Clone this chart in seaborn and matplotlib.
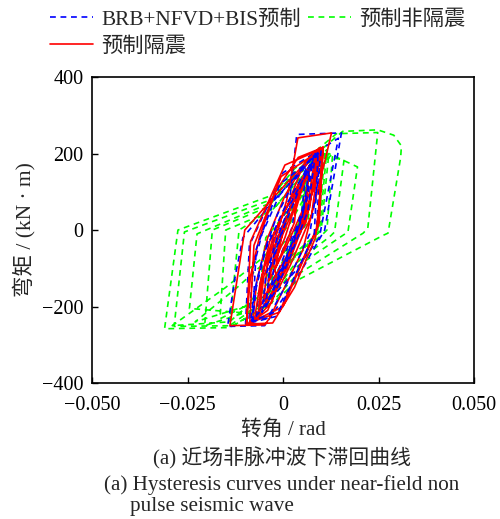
import matplotlib
matplotlib.use("Agg")
import matplotlib.pyplot as plt
import seaborn as sns
import pandas as pd

sns.set_theme(style="white")
FONT = ["Liberation Serif", "Noto Sans CJK SC"]
plt.rcParams["font.family"] = FONT
plt.rcParams["axes.unicode_minus"] = True

# ---- series labels ----
series_names = ["BRB+NFVD+BIS预制", "预制非隔震", "预制隔震"]
series_colors = ["#0000FF", "#00FF00", "#FF0000"]

# ---- 预制非隔震: rotation (rad) / moment (kN·m) path ----
green_rot = [
    0.0000, 0.0030, 0.0060, 0.0050, 0.0010, -0.0030, -0.0020, 0.0020,
    0.0080, 0.0130, 0.0115, 0.0105, 0.0020, -0.0040, -0.0165, -0.0150, -0.0030, 0.0030,
    0.0100, 0.0160, 0.0135, 0.0125, 0.0030, -0.0050, -0.0205, -0.0185, -0.0040, 0.0030,
    0.0120, 0.0195, 0.0170, 0.0155, 0.0030, -0.0060, -0.0245, -0.0225, -0.0035, 0.0030,
    0.0156, 0.0248, 0.0290, 0.0310, 0.0308, 0.0275, 0.0262, 0.0040, -0.0020, -0.0140,
    -0.0310, -0.0275, -0.0026, 0.0030,
    0.0140, 0.0248, 0.0222, 0.0210, 0.0035, -0.0030, -0.0130, -0.0285, -0.0258, -0.0030, 0.0030,
    0.0090, 0.0115, 0.0095, 0.0020, -0.0040, -0.0140, -0.0115, -0.0020, 0.0040,
    0.0080, 0.0065, -0.0030, -0.0060, -0.0045, 0.0020, 0.0060, 0.0045, -0.0020, 0.0000,
    0.0110, 0.0090, -0.0060, -0.0140, -0.0290, -0.0150, -0.0050, 0.0020,
    0.0120, 0.0100, -0.0100, -0.0230, -0.0120, -0.0020, 0.0000,
]
green_mom = [
    0, 60, 130, 40, -60, -140, -40, 50,
    150, 200, 0, -10, -80, -170, -232, 0, 50, 120,
    190, 185, -5, -15, -90, -200, -250, 0, 60, 140,
    200, 165, -5, -15, -100, -220, -205, -10, 70, 150,
    258, 262, 248, 220, 190, -8, -14, -130, -185, -255,
    -258, 0, 92, 160,
    252, 255, 5, -8, -118, -190, -250, -252, -5, 80, 150,
    190, 210, -5, -70, -180, -250, 0, 60, 130,
    170, 20, -100, -150, -20, 60, 140, 20, -60, 0,
    200, -10, -170, -240, -250, -150, -70, 20,
    200, 0, -200, -240, -150, -60, 0,
]

# ---- BRB+NFVD+BIS预制 ----
blue_rot = [
    0.0000,
    0.0035, 0.0025, -0.0025, -0.0040, -0.0028, 0.0010,
    0.0060, 0.0050, -0.0010, -0.0060, -0.0050, -0.0015,
    0.0012, 0.0036, 0.0153, 0.0109, 0.0040, -0.0048, -0.0145, -0.0125, -0.0105, -0.0030,
    0.0090, 0.0078, 0.0055, -0.0025, -0.0070, -0.0060, -0.0025, 0.0025,
    0.0098, 0.0088, -0.0015, -0.0098, -0.0088, 0.0000,
    0.0145, 0.0095, 0.0030, -0.0090, -0.0078, -0.0055, -0.0010,
    0.0080, 0.0065, 0.0020, -0.0035, -0.0080, -0.0070, -0.0045, 0.0000, 0.0050,
    0.0100, 0.0090, 0.0070, 0.0010, -0.0040, -0.0085, -0.0075, -0.0050, -0.0015, 0.0030,
    0.0085, 0.0065, 0.0015, -0.0020, -0.0055, -0.0045, -0.0015, 0.0020,
    0.0092, 0.0082, -0.0010, -0.0080, -0.0070, -0.0008,
    0.0075, 0.0060, 0.0010, -0.0045, -0.0035, -0.0005, 0.0040,
    0.0070, 0.0050, 0.0000, -0.0030, -0.0020, 0.0000,
]
blue_mom = [
    0,
    110, 10, -110, -140, -50, 40,
    160, 50, -100, -190, -90, 0,
    27, 250, 254, 0, -120, -250, -252, -120, -20, 70,
    205, 110, 10, -140, -225, -140, -20, 90,
    210, 0, -225, -246, -40, 150,
    240, -20, -110, -243, -100, -10, 90,
    195, 90, -60, -180, -238, -150, -50, 50, 140,
    210, 120, -10, -140, -230, -240, -160, -60, 40, 130,
    200, 50, -80, -160, -215, -120, -20, 70,
    205, -10, -210, -238, -50, 120,
    185, 80, -70, -200, -100, -10, 100,
    170, 30, -90, -150, -60, 0,
]
# later part of the blue record is drawn above the red one
blue_split = 43

# ---- 预制隔震 ----
red_rot = [
    0.0000,
    0.0040, 0.0030, -0.0020, -0.0035, -0.0020, 0.0020,
    0.0070, 0.0060, 0.0010, -0.0050, -0.0040, -0.0010,
    0.0010, 0.0039, 0.0127, 0.0112, 0.0052, -0.0035, -0.0048, -0.0139, -0.0100, -0.0026,
    0.0095, 0.0080, 0.0060, -0.0020, -0.0060, -0.0050, -0.0010, 0.0040, 0.0030, 0.0065,
    0.0105, 0.0095, -0.0010, -0.0095, -0.0085, 0.0005,
    0.0100, 0.0088, 0.0030, -0.0040, -0.0075, -0.0060, -0.0035, 0.0010, 0.0045,
    0.0098, 0.0075, 0.0020, -0.0010, -0.0025, 0.0005, 0.0050,
    0.0102, 0.0092, 0.0000, -0.0087, -0.0076, -0.0005,
    0.0085, 0.0070, 0.0015, -0.0030, -0.0080, -0.0068, -0.0040, 0.0005, 0.0060,
    0.0105, 0.0098, 0.0085, 0.0030, -0.0027, -0.0096, -0.0085, -0.0062, -0.0020, 0.0040,
    0.0090, 0.0070, 0.0010, -0.0045, -0.0035, 0.0000, 0.0050,
    0.0092, 0.0080, 0.0035, -0.0015, -0.0065, -0.0055, -0.0020, 0.0030,
    0.0070, 0.0055, 0.0010, -0.0020, 0.0000,
]
red_mom = [
    0,
    120, 20, -100, -130, -40, 60,
    170, 60, -90, -180, -80, 10,
    79, 241, 254, 190, -52, -230, -248, -250, 0, 84,
    215, 120, 20, -120, -200, -120, -10, 100, 40, 160,
    215, 20, -215, -245, -30, 170,
    212, 130, -40, -210, -235, -140, -30, 60, 150,
    215, 40, -90, -150, -90, -20, 120,
    212, 10, -200, -243, -40, 140,
    200, 100, -70, -190, -240, -130, -20, 90, 180,
    218, 100, -20, -150, -243, -246, -120, -20, 100, 190,
    210, 60, -100, -200, -110, -10, 110,
    205, 110, -20, -140, -220, -120, 0, 100,
    170, 60, -40, -100, 0,
]

frames = []
for name, xs, ys in [
    (series_names[0], blue_rot, blue_mom),
    (series_names[1], green_rot, green_mom),
    (series_names[2], red_rot, red_mom),
]:
    frames.append(pd.DataFrame({"转角": xs, "弯矩": ys, "工况": name,
                                "step": range(len(xs))}))
df = pd.concat(frames, ignore_index=True)

fig = plt.figure(figsize=(5.0, 5.19), dpi=100)
ax = fig.add_axes([0.184, 0.262, 0.764, 0.5895])

green_df = df[df["工况"] == series_names[1]]
blue_df = df[df["工况"] == series_names[0]]
red_df = df[df["工况"] == series_names[2]]

dash = (0, (3.5, 2.8))
common = dict(x="转角", y="弯矩", sort=False, estimator=None, ax=ax,
              legend=False, linewidth=1.2)
sns.lineplot(data=green_df, color=series_colors[1], linestyle=dash, zorder=1,
             label=series_names[1], **common)
sns.lineplot(data=blue_df[blue_df["step"] <= blue_split], color=series_colors[0],
             linestyle=dash, zorder=2, label=series_names[0], **common)
sns.lineplot(data=red_df, color=series_colors[2], linestyle="-", zorder=3,
             label=series_names[2], **common)
sns.lineplot(data=blue_df[blue_df["step"] >= blue_split], color=series_colors[0],
             linestyle=dash, zorder=4, label="_blue_late", **common)

ax.set_xlim(-0.05, 0.05)
ax.set_ylim(-400, 400)
ax.set_xticks([-0.05, -0.025, 0, 0.025, 0.05])
ax.set_xticklabels(["\u22120.050", "\u22120.025", "0", "0.025", "0.050"])
ax.set_yticks([-400, -200, 0, 200, 400])
ax.set_yticklabels(["\u2212400", "\u2212200", "0", "200", "400"])
ax.tick_params(axis="both", direction="in", length=4, width=1.0, labelsize=14.5,
               colors="black", bottom=True, left=True, top=False, right=False)
ax.tick_params(axis="x", pad=9)
ax.tick_params(axis="y", pad=6)
for sp in ax.spines.values():
    sp.set_color("black")
    sp.set_linewidth(1.2)
ax.set_xlabel("转角 / rad", fontsize=15, labelpad=4, family=FONT)
ax.set_ylabel("弯矩 / (kN · m)", fontsize=15.5, labelpad=5, family=FONT)
ax.grid(False)

# legend above the axes, two columns
h = {l.get_label(): l for l in ax.get_lines()}
handles = [h[series_names[0]], h[series_names[2]], h[series_names[1]]]
labels = [series_names[0], series_names[2], series_names[1]]
fig.legend(handles, labels, loc="upper left", bbox_to_anchor=(0.075, 1.006),
           ncol=2, frameon=False, handlelength=2.0,
           handletextpad=0.4, columnspacing=0.35, labelspacing=0.35,
           borderpad=0.1, prop={"family": FONT, "size": 15.3})

fig.text(282 / 500, 1 - 458 / 519, "(a) 近场非脉冲波下滞回曲线", ha="center",
         va="center", fontsize=15, family=FONT)
fig.text(282 / 500, 1 - 485 / 519, "(a) Hysteresis curves under near-field non",
         ha="center", va="center", fontsize=15.2, family=FONT)
fig.text(130 / 500, 1 - 506 / 519, "pulse seismic wave", ha="left",
         va="center", fontsize=15.2, family=FONT)

fig.savefig("out.png", dpi=100)
